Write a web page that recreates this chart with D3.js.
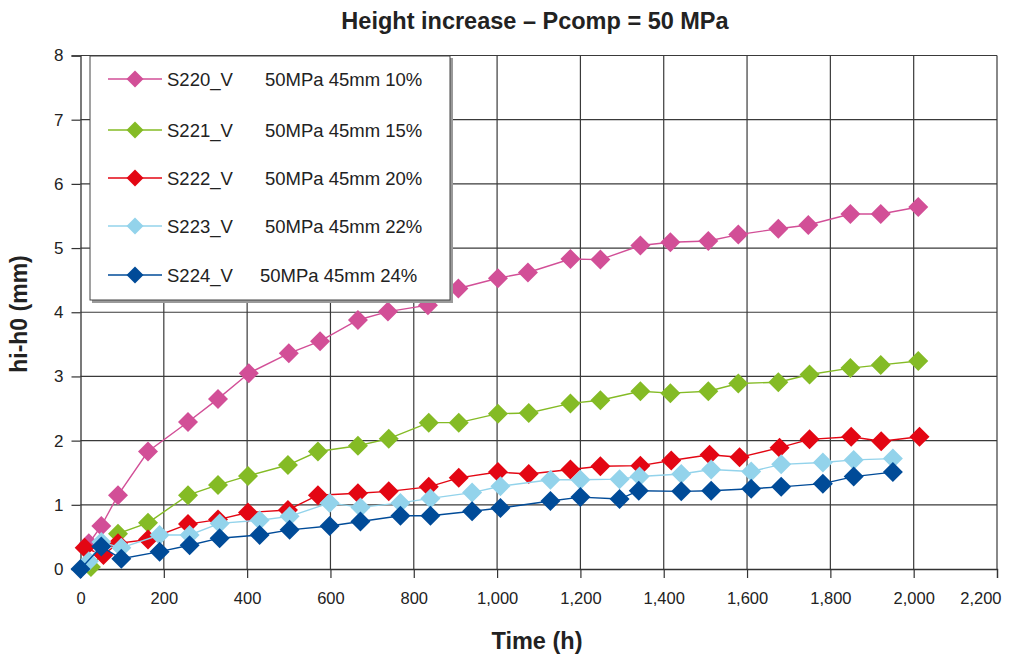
<!DOCTYPE html>
<html>
<head>
<meta charset="utf-8">
<script src="https://cdn.jsdelivr.net/npm/d3@7"></script>
<style>
  html, body { margin: 0; padding: 0; background: #fff; }
  svg { display: block; font-family: Arial, "Liberation Sans", Helvetica, sans-serif; }
</style>
</head>
<body>
<svg id="chart" width="1015" height="660"></svg>
<script>
// Time (h) and height increase hi-h0 (mm) for each specimen
const s220Time = [20, 50, 90, 162, 258, 330, 404, 500, 575, 666, 738, 834, 907, 1002, 1074, 1176, 1248, 1344, 1416, 1507, 1579, 1675, 1747, 1848, 1921, 2011];
const s220Vals = [0.40, 0.67, 1.15, 1.83, 2.29, 2.65, 3.05, 3.36, 3.55, 3.88, 4.01, 4.11, 4.37, 4.53, 4.62, 4.83, 4.82, 5.04, 5.09, 5.11, 5.21, 5.30, 5.36, 5.53, 5.53, 5.64];

const s221Time = [25, 90, 162, 258, 330, 402, 498, 570, 666, 740, 836, 908, 1002, 1076, 1176, 1248, 1344, 1416, 1507, 1579, 1675, 1750, 1848, 1921, 2011];
const s221Vals = [0.03, 0.55, 0.72, 1.15, 1.31, 1.45, 1.62, 1.83, 1.92, 2.03, 2.28, 2.28, 2.42, 2.43, 2.58, 2.63, 2.77, 2.74, 2.77, 2.89, 2.91, 3.03, 3.13, 3.18, 3.24];

const s222Time = [10, 55, 90, 162, 258, 330, 402, 498, 570, 666, 740, 836, 908, 1002, 1076, 1176, 1248, 1344, 1418, 1510, 1582, 1678, 1750, 1850, 1922, 2014];
const s222Vals = [0.33, 0.22, 0.40, 0.46, 0.70, 0.77, 0.88, 0.92, 1.15, 1.18, 1.21, 1.28, 1.42, 1.51, 1.48, 1.55, 1.60, 1.61, 1.69, 1.78, 1.74, 1.89, 2.02, 2.06, 1.99, 2.06];

const s223Time = [20, 50, 98, 190, 262, 334, 430, 502, 598, 672, 768, 840, 940, 1008, 1128, 1200, 1294, 1342, 1442, 1514, 1610, 1682, 1782, 1856, 1950];
const s223Vals = [0.12, 0.42, 0.33, 0.53, 0.53, 0.71, 0.76, 0.82, 1.03, 0.96, 1.03, 1.10, 1.19, 1.29, 1.39, 1.39, 1.40, 1.44, 1.48, 1.55, 1.52, 1.63, 1.66, 1.70, 1.72];

const s224Time = [0, 50, 98, 190, 262, 334, 430, 502, 598, 672, 768, 840, 940, 1008, 1128, 1200, 1294, 1340, 1442, 1514, 1610, 1682, 1782, 1856, 1950];
const s224Vals = [0.00, 0.35, 0.16, 0.27, 0.37, 0.48, 0.53, 0.61, 0.67, 0.74, 0.83, 0.83, 0.90, 0.95, 1.06, 1.12, 1.09, 1.22, 1.21, 1.22, 1.25, 1.28, 1.33, 1.44, 1.51];

const seriesNames = ["S220_V", "S221_V", "S222_V", "S223_V", "S224_V"];
const seriesDesc = ["50MPa 45mm 10%", "50MPa 45mm 15%", "50MPa 45mm 20%", "50MPa 45mm 22%", "50MPa 45mm 24%"];
const seriesColors = ["#d24f97", "#84bb25", "#e30613", "#93d3eb", "#004b98"];

const xTicks = [0, 200, 400, 600, 800, 1000, 1200, 1400, 1600, 1800, 2000, 2200];
const yTicks = [0, 1, 2, 3, 4, 5, 6, 7, 8];

const chartTitle = "Height increase \u2013 Pcomp = 50 MPa";
const xTitle = "Time (h)";
const yTitle = "hi-h0 (mm)";

const series = [
  { name: seriesNames[0], desc: seriesDesc[0], color: seriesColors[0], t: s220Time, v: s220Vals },
  { name: seriesNames[1], desc: seriesDesc[1], color: seriesColors[1], t: s221Time, v: s221Vals },
  { name: seriesNames[2], desc: seriesDesc[2], color: seriesColors[2], t: s222Time, v: s222Vals },
  { name: seriesNames[3], desc: seriesDesc[3], color: seriesColors[3], t: s223Time, v: s223Vals },
  { name: seriesNames[4], desc: seriesDesc[4], color: seriesColors[4], t: s224Time, v: s224Vals }
];

const svg = d3.select("#chart");
const plot = { left: 80.5, right: 997, top: 55.5, bottom: 569 };

const x = d3.scaleLinear().domain([0, 2200]).range([plot.left, plot.right]);
const y = d3.scaleLinear().domain([0, 8]).range([plot.bottom, plot.top]);

// Grid
const grid = svg.append("g");
grid.selectAll("line.v").data(xTicks.slice(1)).join("line")
  .attr("x1", d => x(d)).attr("x2", d => x(d))
  .attr("y1", plot.top).attr("y2", plot.bottom)
  .attr("stroke", "#3a3a3a").attr("stroke-width", 1.2);
grid.selectAll("line.h").data(yTicks.slice(1)).join("line")
  .attr("x1", plot.left).attr("x2", plot.right)
  .attr("y1", d => y(d)).attr("y2", d => y(d))
  .attr("stroke", "#3a3a3a").attr("stroke-width", 1.2);

// Axes
const xAxis = d3.axisBottom(x).tickValues(xTicks).tickSize(9).tickPadding(14)
  .tickFormat(d3.format(","));
const gx = svg.append("g").attr("transform", `translate(0,${plot.bottom})`).call(xAxis);
gx.select(".domain").attr("stroke", "#333").attr("stroke-width", 1.3);
gx.selectAll(".tick line").attr("stroke", "#333").attr("stroke-width", 1.2);
gx.selectAll(".tick text").attr("font-size", 16.5).attr("fill", "#222")
  .attr("font-family", "Arial, 'Liberation Sans', sans-serif");
// keep the last label inside the canvas
gx.selectAll(".tick text").filter(d => d === xTicks[xTicks.length - 1])
  .attr("text-anchor", "end").attr("x", 4);

const yAxis = d3.axisLeft(y).tickValues(yTicks).tickSize(9).tickPadding(8);
const gy = svg.append("g").attr("transform", `translate(${plot.left},0)`).call(yAxis);
gy.select(".domain").attr("stroke", "#333").attr("stroke-width", 1.3);
gy.selectAll(".tick line").attr("stroke", "#333").attr("stroke-width", 1.2);
gy.selectAll(".tick text").attr("font-size", 17).attr("fill", "#222")
  .attr("font-family", "Arial, 'Liberation Sans', sans-serif");

// Series lines and diamond markers
const line = d3.line().x(d => x(d[0])).y(d => y(d[1]));
const diamond = r => `M0,${-r}L${r},0L0,${r}L${-r},0Z`;

series.forEach(s => {
  const pts = s.t.map((t, i) => [t, s.v[i]]);
  const g = svg.append("g");
  g.append("path").datum(pts).attr("d", line)
    .attr("fill", "none").attr("stroke", s.color).attr("stroke-width", 1.4);
  g.selectAll("path.m").data(pts).join("path")
    .attr("transform", d => `translate(${x(d[0])},${y(d[1])})`)
    .attr("d", diamond(10)).attr("fill", s.color);
});

// Legend
const lg = svg.append("g");
lg.append("rect").attr("x", 92).attr("y", 58).attr("width", 361).attr("height", 245).attr("fill", "#9a9a9a");
lg.append("rect").attr("x", 90).attr("y", 56).attr("width", 360).attr("height", 244)
  .attr("fill", "#fff").attr("stroke", "#444").attr("stroke-width", 1);
const rowY = [79, 130, 178, 226, 275];
const descX = [265, 265, 265, 265, 260];
series.forEach((s, i) => {
  const r = lg.append("g").attr("transform", `translate(0,${rowY[i]})`);
  r.append("line").attr("x1", 108).attr("x2", 162).attr("y1", 0).attr("y2", 0)
    .attr("stroke", s.color).attr("stroke-width", 1.4);
  r.append("path").attr("transform", "translate(135,0)").attr("d", diamond(8.5)).attr("fill", s.color);
  r.append("text").attr("x", 167).attr("y", 6.5).attr("font-size", 18.5).attr("fill", "#222").text(s.name);
  r.append("text").attr("x", descX[i]).attr("y", 6.5).attr("font-size", 18.5).attr("fill", "#222").text(s.desc);
});

// Titles
svg.append("text").attr("x", 535).attr("y", 29).attr("text-anchor", "middle")
  .attr("font-size", 23.5).attr("font-weight", "bold").attr("fill", "#222").text(chartTitle);
svg.append("text").attr("x", 537).attr("y", 649).attr("text-anchor", "middle")
  .attr("font-size", 23.5).attr("font-weight", "bold").attr("fill", "#222").text(xTitle);
svg.append("text").attr("transform", "translate(27,314) rotate(-90)").attr("text-anchor", "middle")
  .attr("font-size", 23).attr("font-weight", "bold").attr("fill", "#222").text(yTitle);
</script>
</body>
</html>
